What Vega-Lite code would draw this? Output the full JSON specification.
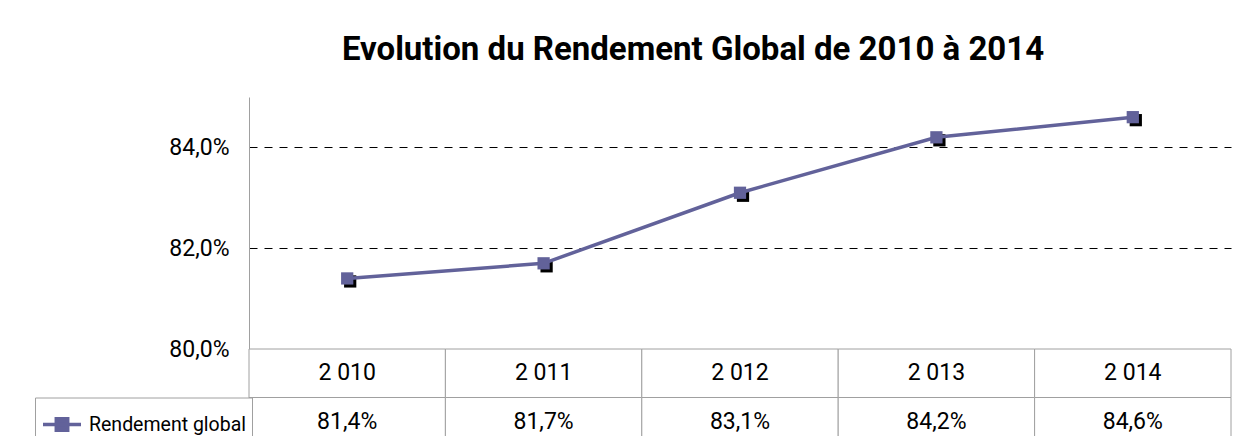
{
  "$schema": "https://vega.github.io/schema/vega-lite/v6.json",
  "autosize": {"type": "pad"},
  "padding": {"left": 34, "top": 34, "right": 0, "bottom": 0},
  "background": "white",
  "bounds": "flush",
  "title": {
    "text": "Evolution du Rendement Global de 2010 à 2014",
    "font": "Roboto",
    "fontSize": 33,
    "fontWeight": "bold",
    "color": "#000000",
    "anchor": "middle",
    "offset": 30,
    "dx": 60
  },
  "data": {
    "values": [
      {"annee": 2010, "rendement": 0.814},
      {"annee": 2011, "rendement": 0.817},
      {"annee": 2012, "rendement": 0.831},
      {"annee": 2013, "rendement": 0.842},
      {"annee": 2014, "rendement": 0.846}
    ]
  },
  "spacing": 0,
  "resolve": {"scale": {"x": "shared"}},
  "vconcat": [
    {
      "width": 982,
      "height": 252,
      "view": {"stroke": null},
      "encoding": {
        "x": {"field": "annee", "type": "ordinal", "scale": {"type": "band", "paddingInner": 0, "paddingOuter": 0}, "axis": null},
        "y": {
          "field": "rendement", "type": "quantitative",
          "scale": {"domain": [0.80, 0.85], "nice": false, "zero": false},
          "axis": {
            "title": null,
            "values": [0.80, 0.82, 0.84],
            "format": ".1%",
            "ticks": false,
            "domain": true,
            "domainColor": "#a0a0a0",
            "domainWidth": 1,
            "labelFont": "Roboto",
            "labelFontSize": 23,
            "labelColor": "#000000",
            "labelPadding": 20,
            "grid": true,
            "gridDash": [8, 7],
            "gridWidth": 1,
            "gridColor": {"condition": {"test": "datum.value < 0.81", "value": "transparent"}, "value": "#000000"}
          }
        }
      },
      "layer": [
        {
          "mark": {"type": "point", "shape": "square", "filled": true, "size": 150, "color": "#000000", "opacity": 1, "xOffset": 3, "yOffset": 3}
        },
        {
          "mark": {"type": "line", "strokeWidth": 3.5},
          "encoding": {
            "color": {
              "datum": "Rendement global",
              "scale": {"range": ["#62629A"]},
              "legend": {
                "title": null,
                "orient": "none",
                "legendX": -214,
                "legendY": 300.5,
                "padding": 6,
                "strokeColor": "#a0a0a0",
                "fillColor": "#ffffff",
                "cornerRadius": 0,
                "symbolType": "M-1,0H1M-0.3,-0.3H0.3V0.3H-0.3Z",
                "symbolSize": 1444,
                "labelOffset": 6,
                "labelFont": "Roboto",
                "labelFontSize": 19.5,
                "labelColor": "#000000",
                "labelLimit": 300,
                "encode": {
                  "symbols": {"update": {"fill": {"value": "#62629A"}, "stroke": {"value": "#62629A"}, "strokeWidth": {"value": 3.5}, "opacity": {"value": 1}}}
                }
              }
            }
          }
        },
        {
          "mark": {"type": "point", "shape": "square", "filled": true, "size": 150, "color": "#62629A", "opacity": 1}
        }
      ]
    },
    {
      "width": 982,
      "height": 97,
      "view": {"stroke": null},
      "encoding": {
        "x": {"field": "annee", "type": "ordinal", "scale": {"type": "band", "paddingInner": 0, "paddingOuter": 0}, "axis": null}
      },
      "layer": [
        {
          "mark": {"type": "rect", "fill": "#ffffff", "stroke": "#a0a0a0", "strokeWidth": 1},
          "encoding": {"y": {"datum": "r1", "type": "nominal", "scale": {"type": "band", "domain": ["r1", "r2"], "paddingInner": 0, "paddingOuter": 0}, "axis": null}}
        },
        {
          "mark": {"type": "rect", "fill": "#ffffff", "stroke": "#a0a0a0", "strokeWidth": 1},
          "encoding": {"y": {"datum": "r2", "type": "nominal"}}
        },
        {
          "mark": {"type": "text", "font": "Roboto", "fontSize": 23, "color": "#000000", "baseline": "middle"},
          "encoding": {
            "y": {"datum": "r1", "type": "nominal"},
            "text": {"field": "annee", "type": "quantitative", "format": ",d"}
          }
        },
        {
          "mark": {"type": "text", "font": "Roboto", "fontSize": 23, "color": "#000000", "baseline": "middle"},
          "encoding": {
            "y": {"datum": "r2", "type": "nominal"},
            "text": {"field": "rendement", "type": "quantitative", "format": ".1%"}
          }
        }
      ]
    }
  ],
  "config": {
    "locale": {"number": {"decimal": ",", "thousands": " ", "grouping": [3], "currency": ["", " €"]}},
    "font": "Roboto"
  }
}
